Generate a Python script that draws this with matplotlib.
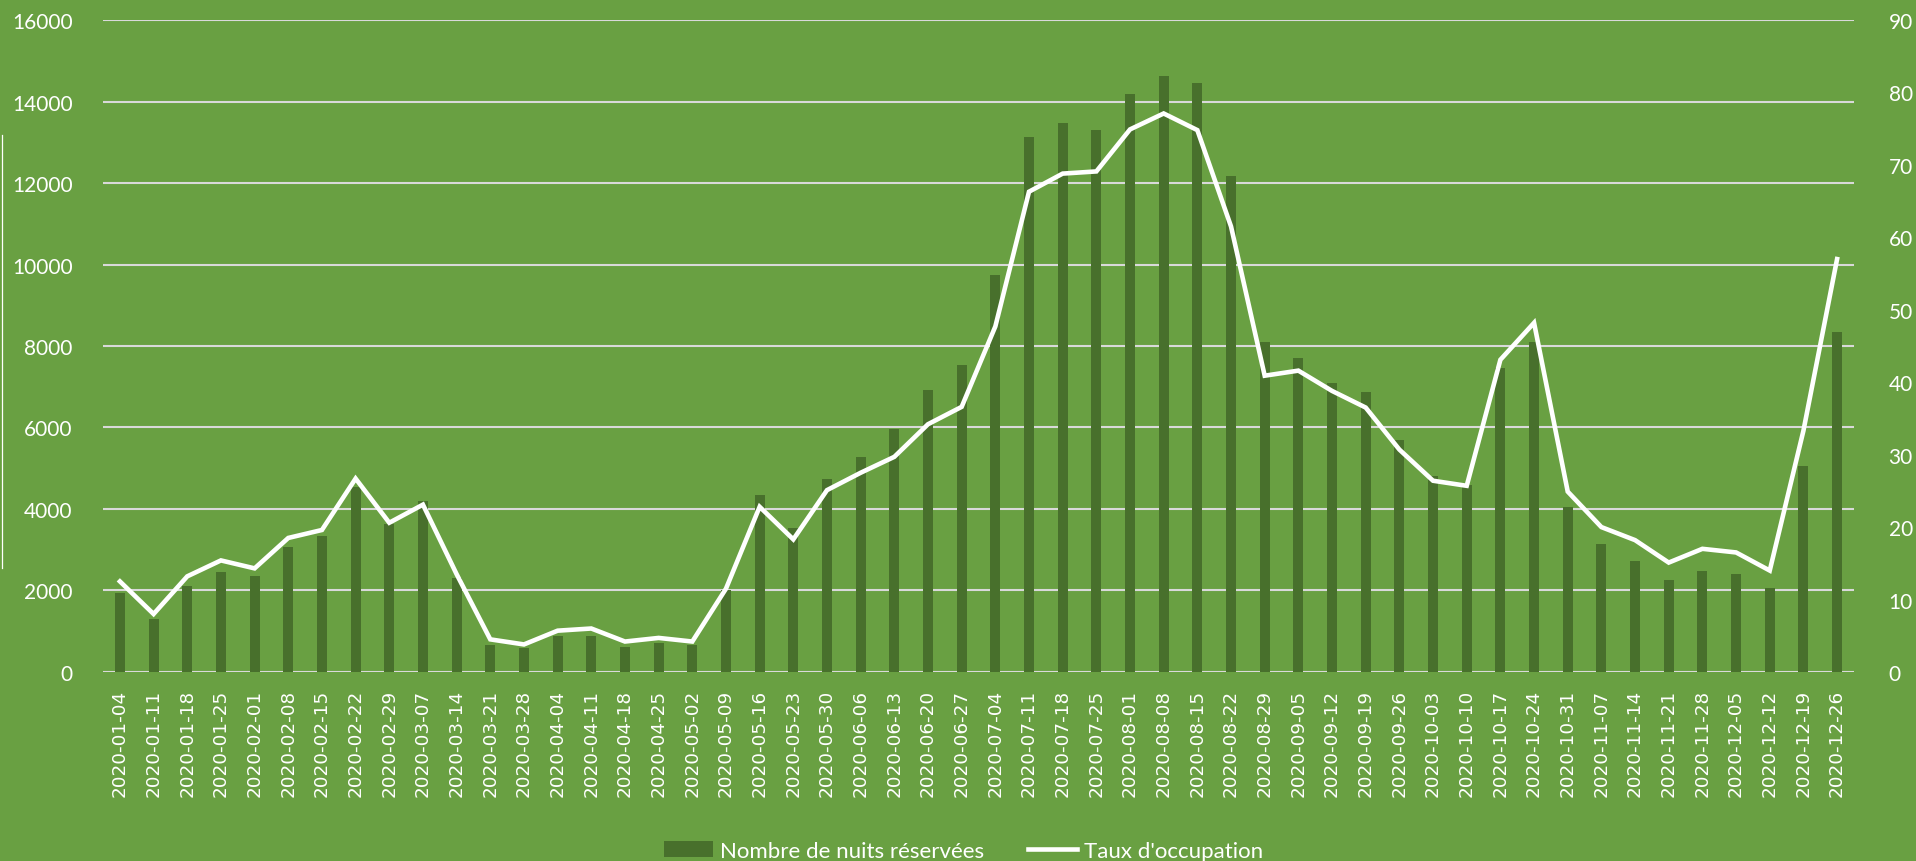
import numpy as np
import matplotlib.pyplot as plt
from matplotlib.lines import Line2D

# weekly dates (week ending)
dates = ["2020-01-04", "2020-01-11", "2020-01-18", "2020-01-25", "2020-02-01",
         "2020-02-08", "2020-02-15", "2020-02-22", "2020-02-29", "2020-03-07",
         "2020-03-14", "2020-03-21", "2020-03-28", "2020-04-04", "2020-04-11",
         "2020-04-18", "2020-04-25", "2020-05-02", "2020-05-09", "2020-05-16",
         "2020-05-23", "2020-05-30", "2020-06-06", "2020-06-13", "2020-06-20",
         "2020-06-27", "2020-07-04", "2020-07-11", "2020-07-18", "2020-07-25",
         "2020-08-01", "2020-08-08", "2020-08-15", "2020-08-22", "2020-08-29",
         "2020-09-05", "2020-09-12", "2020-09-19", "2020-09-26", "2020-10-03",
         "2020-10-10", "2020-10-17", "2020-10-24", "2020-10-31", "2020-11-07",
         "2020-11-14", "2020-11-21", "2020-11-28", "2020-12-05", "2020-12-12",
         "2020-12-19", "2020-12-26"]

nuits = [1950, 1300, 2110, 2450, 2360, 3060, 3340, 4550, 3640, 4190,
         2310, 670, 600, 880, 880, 610, 710, 660, 2000, 4350,
         3530, 4740, 5280, 5960, 6930, 7530, 9740, 13130, 13470, 13290,
         14190, 14620, 14450, 12170, 8110, 7710, 7090, 6860, 5690, 4810,
         4600, 7460, 8100, 4060, 3130, 2720, 2260, 2490, 2410, 2070,
         5050, 8350]

taux = [12.5, 8.0, 13.2, 15.4, 14.3, 18.5, 19.6, 26.7, 20.6, 23.1,
        13.5, 4.5, 3.8, 5.7, 6.0, 4.2, 4.7, 4.2, 11.5, 22.8,
        18.3, 25.1, 27.5, 29.7, 34.2, 36.6, 47.7, 66.3, 68.8, 69.1,
        74.9, 77.1, 74.8, 61.5, 40.9, 41.6, 38.8, 36.5, 30.7, 26.4,
        25.7, 43.1, 48.2, 24.9, 20.0, 18.2, 15.1, 17.0, 16.5, 14.0,
        33.3, 57.0]

bg = "#69A042"
bar_color = "#48702C"
grid_color = "#D9D9D9"
txt = "#FFFFFF"

fig = plt.figure(figsize=(19.16, 8.62), dpi=100, facecolor=bg)
ax = fig.add_axes([0.0538, 0.2193, 0.9138, 0.7563], facecolor=bg)
ax2 = ax.twinx()

x = np.arange(len(dates))
b = ax.bar(x, nuits, width=0.3, color=bar_color, zorder=2,
           label="Nombre de nuits réservées")
l, = ax2.plot(x, taux, color="white", lw=3.3, solid_joinstyle="miter",
              zorder=3, label="Taux d'occupation")

ax.set_xlim(-0.5, len(dates) - 0.5)
ax.set_ylim(0, 16000)
ax.set_yticks(np.arange(0, 16001, 2000))
ax2.set_ylim(0, 90)
ax2.set_yticks(np.arange(0, 91, 10))

ax.set_axisbelow(True)
ax.grid(axis="y", color=grid_color, lw=1.5)
ax.set_xticks(x)
ax.set_xticklabels(dates, rotation=90, fontsize=13.2, color=txt,
                   family="DejaVu Sans")

for a in (ax, ax2):
    for s in a.spines.values():
        s.set_visible(False)
    a.tick_params(length=0)

ax.tick_params(axis="x", pad=12)
ax.tick_params(axis="y", pad=22, labelsize=15, labelcolor=txt)
ax2.tick_params(axis="y", pad=25, labelsize=15, labelcolor=txt)
for t in ax.get_yticklabels() + ax2.get_yticklabels():
    t.set_family("Lato")

leg = fig.legend(handles=[b, l], loc="center", bbox_to_anchor=(0.503, 0.012),
                 ncol=2, frameon=False, handlelength=2.2,
                 handleheight=0.7, handletextpad=0.3, columnspacing=2.0,
                 prop={"family": "Lato", "size": 16})
for t in leg.get_texts():
    t.set_color(txt)

# thin stray line at the left edge
fig.add_artist(Line2D([0.0013, 0.0013], [0.340, 0.842], color="white", lw=0.9))

fig.savefig("out.png", dpi=100, facecolor=bg)
